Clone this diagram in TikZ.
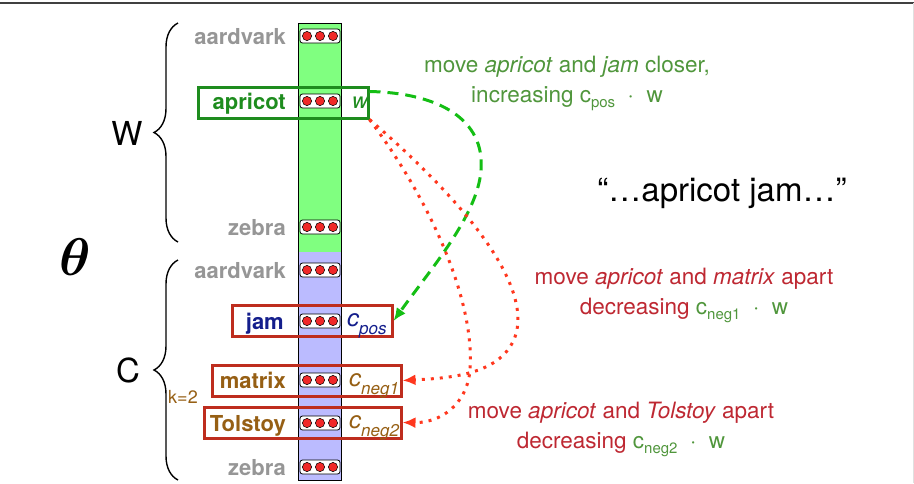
\documentclass[tikz,border=0pt]{standalone}
\usepackage{fontspec}
\setmainfont{TeX Gyre Heros}
\usepackage{amsmath,bm}
\usetikzlibrary{arrows.meta,calc,decorations.pathreplacing}

\definecolor{colgreen}{RGB}{128,255,128}
\definecolor{colblue}{RGB}{187,187,255}
\definecolor{wordgray}{RGB}{150,150,150}
\definecolor{aprgreen}{RGB}{30,140,30}
\definecolor{jamblue}{RGB}{20,30,140}
\definecolor{negbrown}{RGB}{150,95,20}
\definecolor{boxred}{RGB}{190,45,30}
\definecolor{dotred}{RGB}{240,40,40}
\definecolor{notered}{RGB}{190,40,50}
\definecolor{notegreen}{RGB}{80,150,60}
\definecolor{arrgreen}{RGB}{20,190,20}
\definecolor{arrred}{RGB}{255,55,30}

\newcommand\sub[1]{\raisebox{-5pt}{\fontsize{15}{15}\selectfont #1}}
\newcommand\csub[1]{\raisebox{-8pt}{\fontsize{17}{17}\selectfont #1}}

\begin{document}
\begin{tikzpicture}[x=1pt,y=-1pt,
  word/.style={anchor=base east, inner sep=0pt, font=\fontsize{22}{24}\selectfont\bfseries},
  vec/.style={draw, rounded corners=2.5pt, fill=white, minimum width=40pt,
              minimum height=14pt, inner sep=0pt, line width=0.8pt},
  ctxbox/.style={draw=boxred, line width=3pt, minimum height=31pt, inner sep=0pt},
  clbl/.style={anchor=base west, inner sep=0pt, font=\fontsize{24}{26}\selectfont\itshape},
  note/.style={align=center, font=\fontsize{22.5}{30}\selectfont},
  brc/.style={decorate, decoration={brace, amplitude=24pt}, line width=1.4pt},
  posarr/.style={-{Latex[length=13pt,width=11pt]}, line width=3pt, arrgreen,
                 dash pattern=on 11pt off 7pt},
  negarr/.style={-{Latex[length=13pt,width=11pt]}, line width=3pt, arrred,
                 dash pattern=on 3pt off 6pt}
]
\useasboundingbox (0,0) rectangle (914,483);
\draw[line width=2pt, black!75] (0,3) -- (914,3);
\draw[line width=1pt, black!12] (913,3) -- (913,483);

% embedding column
\fill[colgreen] (298,23) rectangle (341,252);
\fill[colblue]  (298,252) rectangle (341,480);
\draw[line width=0.8pt] (298,23) rectangle (341,480);

% words
\node[word, text=wordgray] (waw) at (286,44)  {aardvark};
\node[word, text=aprgreen] (wap) at (286,109) {apricot};
\node[word, text=wordgray] (wzw) at (286,235) {zebra};
\node[word, text=wordgray] (wac) at (286,278) {aardvark};
\node[word, text=jamblue]  (wjm) at (284,329) {jam};
\node[word, text=negbrown] (wmt) at (286,388) {matrix};
\node[word, text=negbrown] (wtl) at (286,431) {Tolstoy};
\node[word, text=wordgray] (wzc) at (286,475) {zebra};

% target and context boxes
\node[draw=aprgreen, line width=3pt, minimum width=170pt, minimum height=31pt,
      inner sep=0pt] (bapr) at (283,102.5) {};
\node[ctxbox, minimum width=160pt] (bjam) at (312,321) {};
\node[ctxbox, minimum width=189pt] (bmat) at (306.5,380.5) {};
\node[ctxbox, minimum width=197pt] (btol) at (302.5,422.5) {};

% vectors
\foreach \name/\y in {vaw/36, vap/101, vzw/227, vac/270, vjm/321, vmt/380, vtl/423, vzc/467} {
  \node[vec] (\name) at (320,\y) {};
  \foreach \dx in {-13,0,13}
    \filldraw[fill=dotred, line width=0.5pt] ($(\name)+(\dx,0)$) circle (4.6pt);
}

\node[clbl, text=aprgreen, font=\fontsize{22}{24}\selectfont\itshape] (lw) at (352,108) {w};
\node[clbl, text=jamblue]  (lpos)  at (347,326) {c\csub{pos}};
\node[clbl, text=negbrown] (lneg1) at (349,386) {c\csub{neg1}};
\node[clbl, text=negbrown] (lneg2) at (349,428) {c\csub{neg2}};

% braces
\draw[brc] (178,242) -- (178,23);
\draw[brc] (178,480) -- (178,260);
\node[font=\fontsize{33}{36}\selectfont] (lW) at (127,133) {W};
\node[font=\fontsize{33}{36}\selectfont] (lC) at (128,370) {C};
\node[font=\fontsize{18}{20}\selectfont, text=negbrown] (lk) at (183,397) {k=2};
\node[scale=5.3] (theta) at (75,257) {$\bm{\theta}$};

% notes
\node[font=\fontsize{33}{36}\selectfont] (quote) at (722,193) {“…apricot jam…”};
\node[note, text=notegreen] (napr) at (567,83)
  {move \textit{apricot} and \textit{jam} closer,\\increasing c\sub{pos} \ · \ w};
\node[note, text=notered] (nmat) at (684,295)
  {move \textit{apricot} and \textit{matrix} apart\\decreasing \textcolor{notegreen}{c\sub{neg1} \ · \ w}};
\node[note, text=notered] (ntol) at (621,429)
  {move \textit{apricot} and \textit{Tolstoy} apart\\decreasing \textcolor{notegreen}{c\sub{neg2} \ · \ w}};

% updates
\draw[posarr] ($(bapr.north east)+(0,6)$) .. controls (440,93) and (485,120) .. (481,170)
  .. controls (478,215) and (430,270) .. (bjam.east);
\draw[negarr] (bapr.south east) .. controls (440,180) and (528,270) .. (517,330)
  .. controls (507,375) and (450,378) .. (bmat.east);
\draw[negarr] (bapr.south east) .. controls (430,200) and (475,300) .. (470,370)
  .. controls (467,405) and (440,423) .. (btol.east);

\end{tikzpicture}
\end{document}
